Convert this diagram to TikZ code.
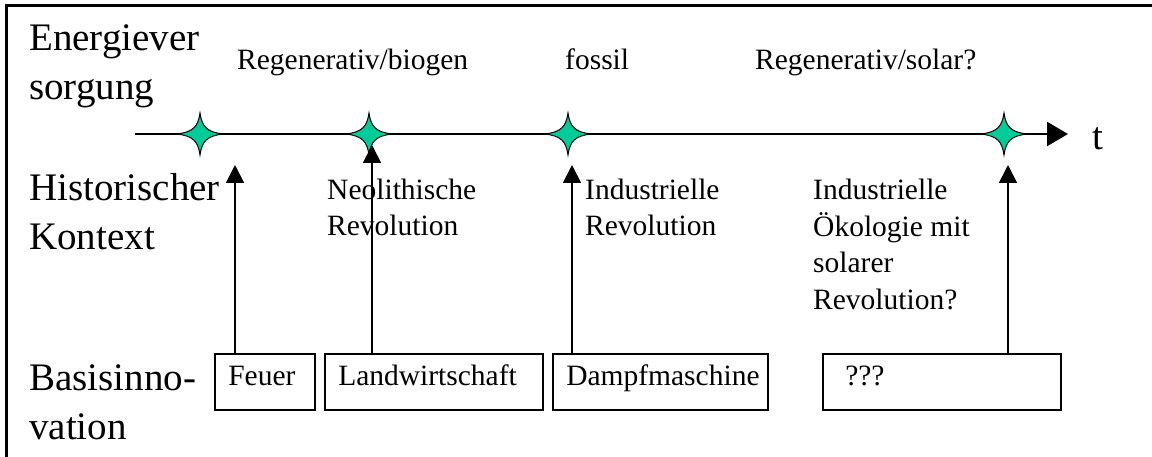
\documentclass[tikz,border=0pt]{standalone}
\usepackage{fontspec}
\setmainfont{Liberation Serif}
\usetikzlibrary{arrows.meta}
\newcommand{\bigfont}{\fontsize{39}{49}\selectfont}
\newcommand{\smallfont}{\fontsize{29.5}{36.5}\selectfont}
\definecolor{starfill}{RGB}{0,204,153}
\begin{document}
\begin{tikzpicture}[x=1pt,y=-1pt,
  % multi-line labels are placed by the baseline of their last line
  biglabel/.style={font=\bigfont, align=left, anchor=base west, inner sep=0pt},
  smalllabel/.style={font=\smallfont, align=left, anchor=base west, inner sep=0pt},
  innobox/.style={draw, line width=1.5pt, font=\smallfont, anchor=north west,
    minimum height=56pt, inner xsep=13.5pt, inner ysep=0pt, align=left,
    text height=0.8em, text depth=0.1em},
  uparrow/.style={line width=1.8pt, -{Triangle[length=18pt,width=18pt]}},
  timeaxis/.style={line width=2.5pt, -{Triangle[length=21pt,width=24pt]}},
  spark/.pic={\draw[line width=1pt, fill=starfill]
    (0,-21) .. controls (2,-7) and (7,-2) .. (23,0)
    .. controls (7,2) and (2,7) .. (0,21)
    .. controls (-2,7) and (-7,2) .. (-23,0)
    .. controls (-7,-2) and (-2,-7) .. cycle;}
]
\useasboundingbox (0,0) rectangle (1152,457);

% frame
\coordinate (fbl) at (6,457);
\coordinate (ftl) at (6,6);
\coordinate (ftr) at (1152,6);
\draw[line width=3pt] (fbl) -- (ftl) -- (ftr);

% row headings
\node[biglabel] (hEnergie) at (29,100) {Energiever\\sorgung};
\node[biglabel] (hKontext) at (29,250) {Historischer\\Kontext};
\node[biglabel] (hBasis) at (29,439) {Basisinno-\\vation};

% energy supply phases
\node[smalllabel] (pBio) at (237,70) {Regenerativ/biogen};
\node[smalllabel] (pFossil) at (565,70) {fossil};
\node[smalllabel] (pSolar) at (755,70) {Regenerativ/solar?};

% time axis
\coordinate (axStart) at (135,134);
\coordinate (axEnd) at (1068,134);
\draw[timeaxis] (axStart) -- (axEnd);
\node[biglabel] (tLabel) at (1092,150) {t};

% markers on the axis
\pic (m1) at (200,134) {spark};
\pic (m2) at (369,134) {spark};
\pic (m3) at (568,134) {spark};
\pic (m4) at (1004,134) {spark};

% historical context
\node[smalllabel] (cNeo) at (327,236) {Neolithische\\Revolution};
\node[smalllabel] (cInd) at (585,236) {Industrielle\\Revolution};
\node[smalllabel] (cSol) at (813,309) {Industrielle\\Ökologie mit\\solarer\\Revolution?};

% basic innovations
\node[innobox, text width=73pt] (bFeuer) at (214,353) {Feuer};
\node[innobox, text width=191pt] (bLand) at (324,353) {Landwirtschaft};
\node[innobox, text width=188pt] (bDampf) at (552,353) {Dampfmaschine};
\node[innobox, text width=211pt] (bUnk) at (822,353) {\hspace*{9pt}???};

% arrows from innovations up to the axis
\coordinate (a1) at (235,165);
\coordinate (a2) at (372,145);
\coordinate (a3) at (572,165);
\coordinate (a4) at (1008,165);
\draw[uparrow] (a1 |- bFeuer.north) -- (a1);
\draw[uparrow] (a2 |- bLand.north) -- (a2);
\draw[uparrow] (a3 |- bDampf.north) -- (a3);
\draw[uparrow] (a4 |- bUnk.north) -- (a4);
\end{tikzpicture}
\end{document}
